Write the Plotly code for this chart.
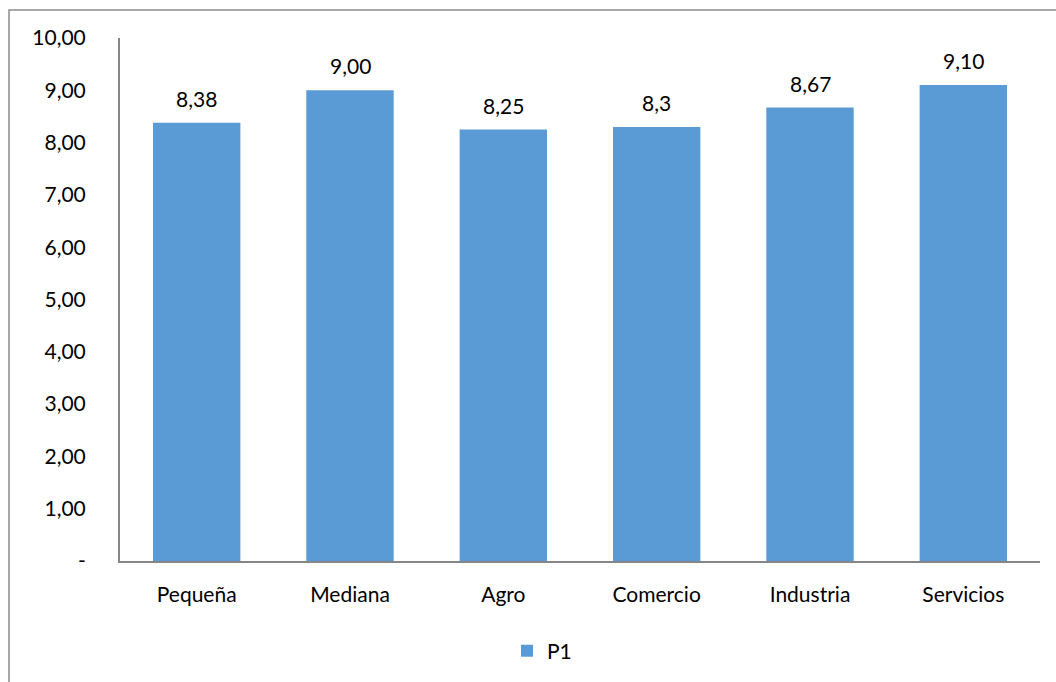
import plotly.graph_objects as go

categories = ["Pequeña", "Mediana", "Agro", "Comercio", "Industria", "Servicios"]
values = [8.38, 9.00, 8.25, 8.30, 8.67, 9.10]
value_labels = ["8,38", "9,00", "8,25", "8,3", "8,67", "9,10"]
y_tickvals = [0, 1, 2, 3, 4, 5, 6, 7, 8, 9, 10]
y_ticktext = ["-", "1,00", "2,00", "3,00", "4,00", "5,00", "6,00", "7,00", "8,00", "9,00", "10,00"]

FONT = "Lato, 'Open Sans', sans-serif"
L, R, T, B = 120, 16, 38, 120
W, H = 1056, 682
pw, ph = W - L - R, H - T - B

fig = go.Figure()
fig.add_trace(go.Bar(
    x=categories, y=values, name="P1",
    marker=dict(color="#5B9BD5", line=dict(width=0)),
))

for c, v, t in zip(categories, values, value_labels):
    fig.add_annotation(x=c, y=v, text=t, showarrow=False, yanchor="bottom",
                       yshift=10, font=dict(size=21, family=FONT, color="#000000"))

fig.update_layout(
    width=W, height=H,
    margin=dict(l=L, r=R, t=T, b=B),
    paper_bgcolor="white", plot_bgcolor="white",
    bargap=0.43,
    showlegend=True,
    legend=dict(orientation="h", x=0.5 - 38 / pw, xanchor="center",
                y=-(651 - (T + ph)) / ph,
                yanchor="middle", font=dict(size=21, family=FONT, color="#000000"),
                itemwidth=30),
    font=dict(family=FONT, size=21, color="#000000"),
    xaxis=dict(showline=True, linecolor="#868686", linewidth=2, ticks="",
               tickfont=dict(size=21, family=FONT), ticklabelstandoff=14,
               showgrid=False),
    yaxis=dict(range=[0, 10], tickvals=y_tickvals, ticktext=y_ticktext,
               showline=True, linecolor="#868686", linewidth=2, ticks="",
               showgrid=False, zeroline=False, ticklabelstandoff=28,
               tickfont=dict(size=21, family=FONT)),
    shapes=[dict(type="rect", xref="paper", yref="paper",
                 x0=(9 - L) / pw, x1=(1070 - L) / pw,
                 y0=-(700 - (T + ph)) / ph, y1=((T + ph) - 10) / ph,
                 line=dict(color="#8c8c8c", width=1.5), fillcolor="rgba(0,0,0,0)",
                 layer="below")],
)

fig.write_html("out.html")
